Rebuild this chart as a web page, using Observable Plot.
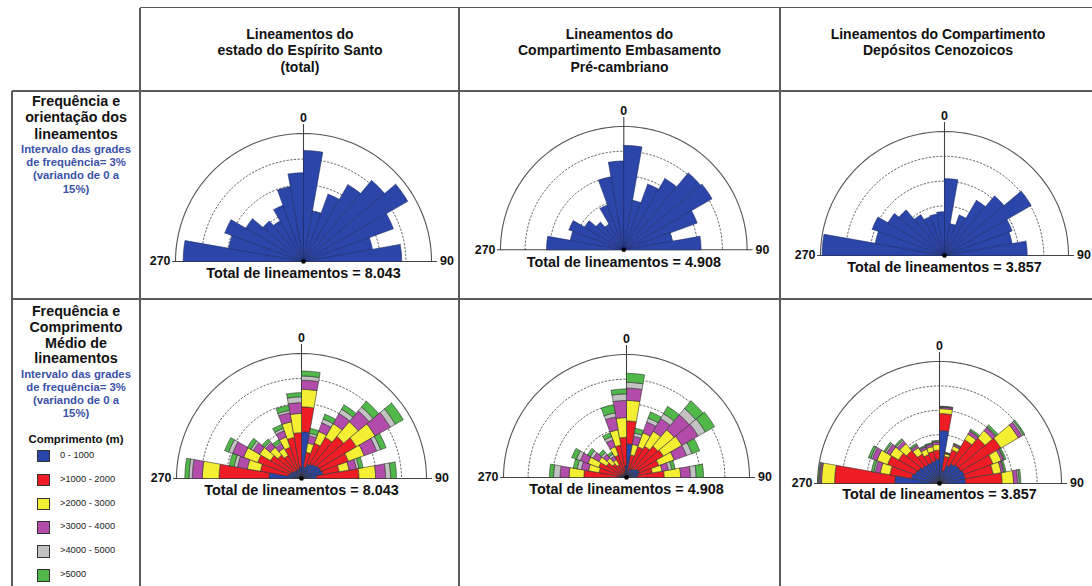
<!DOCTYPE html>
<html lang="pt">
<head>
<meta charset="utf-8">
<script src="https://cdn.jsdelivr.net/npm/d3@7"></script>
<script src="https://cdn.jsdelivr.net/npm/@observablehq/plot@0.6"></script>
<style>
html,body{margin:0;padding:0;background:#fff;}
#page{position:relative;width:1092px;height:586px;overflow:hidden;font-family:Arial,"Liberation Sans",Helvetica,sans-serif;color:#111;}
.chart svg{overflow:visible;}
</style>
</head>
<body>
<div id="page"></div>
<script>
// ---------------- data ----------------
const binStarts = [270,280,290,300,310,320,330,340,350,0,10,20,30,40,50,60,70,80];
const binWidth = 10;
const gridValues = [3,6,9,12,15];
const axisLabels = {left: "270", top: "0", right: "90"};

const columnTitles = [
  ["Lineamentos do", "estado do Espírito Santo", "(total)"],
  ["Lineamentos do", "Compartimento Embasamento", "Pré-cambriano"],
  ["Lineamentos do Compartimento", "Depósitos Cenozoicos"]
];
const row1Title = ["Frequência e", "orientação dos", "lineamentos"];
const row2Title = ["Frequência e", "Comprimento", "Médio de", "lineamentos"];
const gridNote = ["Intervalo das grades", "de frequência= 3%", "(variando de 0 a", "15%)"];
const legendTitle = "Comprimento (m)";
const totalLabels = ["8.043", "4.908", "3.857"];

const lengthClasses = ["0 - 1000", ">1000 - 2000", ">2000 - 3000", ">3000 - 4000", ">4000 - 5000", ">5000"];
const lengthColors = ["#2a45aa", "#ee1d25", "#f4ef33", "#b24ba9", "#c2c2c2", "#4fb848"];
const freqColor = "#2b46a8";

// Frequency (%) per 10° bin, in binStarts order
const freqES  = [14.1, 8.9, 9.8, 7.8, 6.2, 5.5, 7.0, 8.9, 10.4, 13.0, 6.0, 8.4, 10.4, 12.4, 14.1, 11.2, 8.2, 11.5];
const freqPre = [9.4, 6.6, 7.1, 5.5, 4.4, 3.6, 5.8, 9.0, 10.8, 12.7, 6.1, 8.5, 10.0, 12.2, 12.4, 9.5, 6.0, 9.4];
const freqCen = [14.8, 8.5, 9.3, 7.9, 7.2, 5.7, 5.0, 5.1, 5.3, 9.3, 3.9, 5.2, 7.7, 9.4, 12.1, 8.7, 8.3, 10.0];

// Frequency (%) split by length class (rows: lengthClasses), in binStarts order
const lenES = [
  [3.9, 1.6, 1.5, 1.3, 1.2, 1.1, 1.1, 1.2, 1.4, 5.6, 1.4, 1.8, 2.0, 2.2, 2.4, 2.5, 2.6, 1.8],
  [6.0, 3.4, 4.1, 3.0, 2.5, 2.1, 2.9, 3.8, 4.1, 3.0, 1.8, 2.7, 3.7, 4.4, 5.2, 3.5, 2.0, 5.1],
  [2.0, 1.6, 1.8, 1.5, 1.2, 1.0, 1.3, 1.9, 2.3, 2.1, 1.1, 1.5, 1.9, 2.3, 2.6, 2.0, 1.2, 2.0],
  [1.2, 1.2, 1.4, 0.9, 0.7, 0.6, 0.8, 1.1, 1.3, 1.1, 0.9, 1.1, 1.4, 1.7, 2.1, 1.6, 0.9, 1.2],
  [0.4, 0.4, 0.5, 0.3, 0.2, 0.2, 0.3, 0.3, 0.7, 0.5, 0.3, 0.5, 0.6, 0.6, 0.7, 0.5, 0.3, 0.6],
  [0.5, 0.6, 0.5, 0.5, 0.4, 0.4, 0.5, 0.6, 0.5, 0.6, 0.6, 0.6, 0.6, 0.9, 1.1, 0.7, 0.5, 0.7]
];
const lenPre = [
  [1.1, 0.8, 0.8, 0.6, 0.5, 0.4, 0.6, 0.8, 1.4, 4.1, 0.9, 1.1, 1.2, 1.4, 1.6, 1.7, 1.5, 1.3],
  [4.1, 2.6, 2.8, 2.2, 1.7, 1.4, 2.3, 3.2, 3.5, 2.8, 1.9, 2.9, 3.2, 3.6, 3.6, 2.5, 1.7, 3.3],
  [1.8, 1.3, 1.4, 1.1, 0.9, 0.7, 1.1, 1.9, 2.4, 2.5, 1.3, 1.8, 2.1, 2.6, 2.6, 2.0, 1.2, 2.0],
  [1.1, 0.9, 1.0, 0.8, 0.6, 0.5, 0.9, 1.6, 2.1, 1.5, 1.0, 1.4, 1.8, 2.4, 2.3, 1.6, 0.8, 1.2],
  [0.8, 0.5, 0.5, 0.4, 0.3, 0.3, 0.4, 0.5, 0.8, 0.7, 0.4, 0.5, 0.7, 1.0, 1.0, 0.7, 0.4, 0.7],
  [0.5, 0.5, 0.6, 0.4, 0.4, 0.3, 0.5, 1.0, 0.6, 1.1, 0.6, 0.8, 1.0, 1.2, 1.3, 1.0, 0.4, 0.9]
];
const lenCen = [
  [5.5, 3.5, 3.2, 3.0, 2.8, 2.7, 2.7, 2.8, 3.0, 6.5, 1.6, 2.4, 2.8, 3.0, 3.0, 3.2, 3.2, 3.2],
  [7.4, 2.7, 3.6, 2.8, 2.5, 1.5, 1.1, 1.2, 1.1, 2.1, 1.8, 2.0, 3.4, 4.3, 5.7, 3.8, 3.5, 4.5],
  [1.6, 1.2, 1.4, 1.2, 1.1, 0.9, 0.7, 0.6, 0.7, 0.6, 0.3, 0.5, 0.8, 1.2, 2.5, 1.1, 1.0, 1.4],
  [0.2, 0.6, 0.6, 0.5, 0.4, 0.3, 0.3, 0.3, 0.3, 0.2, 0.1, 0.2, 0.4, 0.5, 0.5, 0.3, 0.3, 0.5],
  [0.1, 0.2, 0.2, 0.2, 0.2, 0.1, 0.1, 0.1, 0.1, 0.05, 0.05, 0.05, 0.1, 0.1, 0.2, 0.1, 0.1, 0.2],
  [0.1, 0.3, 0.3, 0.2, 0.2, 0.2, 0.1, 0.1, 0.1, 0.05, 0.05, 0.1, 0.2, 0.3, 0.2, 0.2, 0.2, 0.2]
];

// ---------------- layout helpers ----------------
const page = document.getElementById("page");
const FONT = 'Arial, "Liberation Sans", Helvetica, sans-serif';
function el(css, text) {
  const e = document.createElement("div");
  e.style.position = "absolute";
  Object.assign(e.style, css);
  if (text != null) e.textContent = text;
  page.appendChild(e);
  return e;
}
const lineColor = "#5a5a5a";
function hLine(x1, x2, y) { el({left: x1 + "px", top: (y - 0.75) + "px", width: (x2 - x1) + "px", height: "1.5px", background: lineColor}); }
function vLine(x, y1, y2) { el({left: (x - 0.75) + "px", top: y1 + "px", width: "1.5px", height: (y2 - y1) + "px", background: lineColor}); }
function textLine(cx, cy, s, size, color, weight, anchor = "center", x0) {
  const h = size * 1.5;
  const css = {top: (cy - h / 2) + "px", height: h + "px", lineHeight: h + "px", fontSize: size + "px",
    fontWeight: weight, color, whiteSpace: "nowrap", fontFamily: FONT};
  if (anchor === "center") { css.left = (cx - 200) + "px"; css.width = "400px"; css.textAlign = "center"; }
  else { css.left = x0 + "px"; }
  el(css, s);
}

// table grid
hLine(140, 1092, 7.5);
hLine(12, 1092, 91);
hLine(12, 1092, 299);
vLine(140, 7.5, 586);
vLine(459, 7.5, 586);
vLine(780, 7.5, 586);
vLine(12, 91, 586);

// column headers
const colCenters = [300, 619.5, 938];
columnTitles.forEach((lines, c) => lines.forEach((s, j) => textLine(colCenters[c], 34 + 16.5 * j, s, 14, "#111", "bold")));

// row labels
const noteColor = "#3b51aa";
row1Title.forEach((s, j) => textLine(76, 101.7 + 16.3 * j, s, 14.3, "#111", "bold"));
gridNote.forEach((s, j) => textLine(76, 149.3 + 13.3 * j, s, 11.3, noteColor, "bold"));
row2Title.forEach((s, j) => textLine(76, 311.7 + 15.8 * j, s, 14.3, "#111", "bold"));
gridNote.forEach((s, j) => textLine(76, 374 + 13.3 * j, s, 11.3, noteColor, "bold"));

// legend
textLine(76, 439.3, legendTitle, 11.4, "#111", "bold");
lengthClasses.forEach((s, i) => {
  const cy = 455.7 + 23.9 * i;
  el({left: "37px", top: (cy - 6) + "px", width: "10.5px", height: "10.5px", background: lengthColors[i], border: "1px solid #333"});
  textLine(0, cy, s, 9.3, "#222", "normal", "left", 60);
});

// ---------------- rose diagrams ----------------
function wedge(a0, a1, r0, r1) {
  const n = 8, pts = [];
  for (let j = 0; j <= n; j++) {
    const t = (a0 + (a1 - a0) * j / n) * Math.PI / 180;
    pts.push([r1 * Math.sin(t), r1 * Math.cos(t)]);
  }
  if (r0 > 0) {
    for (let j = n; j >= 0; j--) {
      const t = (a0 + (a1 - a0) * j / n) * Math.PI / 180;
      pts.push([r0 * Math.sin(t), r0 * Math.cos(t)]);
    }
  } else pts.push([0, 0]);
  pts.push(pts[0]);
  return pts;
}

function rose({cx, cy, R, layers, colors, stroke, total, totalDy}) {
  const gmax = d3.max(gridValues);
  const k = R / gmax;
  const padX = R + 45, padTop = R + 30, padBottom = 26;
  const W = 2 * padX, H = padTop + padBottom;
  const marks = [];
  const gridPts = [];
  gridValues.forEach(g => {
    for (let a = -90; a <= 90; a += 2) gridPts.push({g, x: g * Math.sin(a * Math.PI / 180), y: g * Math.cos(a * Math.PI / 180)});
  });
  marks.push(Plot.line(gridPts.filter(d => d.g < gmax), {x: "x", y: "y", z: "g", stroke: "#555", strokeWidth: 0.9, strokeDasharray: "1.5,2.2"}));
  marks.push(Plot.line(gridPts.filter(d => d.g === gmax), {x: "x", y: "y", z: "g", stroke: "#555", strokeWidth: 1.1}));
  marks.push(Plot.ruleY([{y: 0, x1: -gmax - 3 / k, x2: gmax + 6 / k}], {y: "y", x1: "x1", x2: "x2", stroke: "#444", strokeWidth: 1.1}));
  marks.push(Plot.ruleX([{x: 0, y1: 0, y2: gmax + 9 / k}], {x: "x", y1: "y1", y2: "y2", stroke: "#444", strokeWidth: 1.1}));
  layers.forEach((vals, li) => {
    const pts = [];
    vals.forEach((v, i) => {
      const r0 = d3.sum(layers.slice(0, li), L => L[i]);
      wedge(binStarts[i], binStarts[i] + binWidth, r0, r0 + v).forEach(([x, y]) => pts.push({id: i, x, y}));
    });
    marks.push(Plot.line(pts, {x: "x", y: "y", z: "id", fill: colors[li], stroke, strokeWidth: 0.6, strokeLinejoin: "miter"}));
  });
  marks.push(Plot.dot([{x: 0, y: 0}], {x: "x", y: "y", r: 2.3, fill: "#000"}));
  const lab = {fontFamily: FONT, fontWeight: "bold", fontSize: 12.4, fill: "#111"};
  marks.push(Plot.text([{x: 0, y: gmax, t: axisLabels.top}], {x: "x", y: "y", text: "t", dy: -15, ...lab}));
  marks.push(Plot.text([{x: -gmax, y: 0, t: axisLabels.left}], {x: "x", y: "y", text: "t", dx: -5, textAnchor: "end", ...lab}));
  marks.push(Plot.text([{x: gmax, y: 0, t: axisLabels.right}], {x: "x", y: "y", text: "t", dx: 8.5, textAnchor: "start", ...lab}));
  marks.push(Plot.text([{x: 0, y: 0, t: "Total de lineamentos = " + total}], {x: "x", y: "y", text: "t", dy: totalDy, fontFamily: FONT, fontWeight: "bold", fontSize: 14.4, fill: "#111"}));
  const svg = Plot.plot({
    width: W, height: H, margin: 0,
    x: {domain: [-padX / k, padX / k], axis: null},
    y: {domain: [-padBottom / k, padTop / k], axis: null},
    style: {background: "transparent", overflow: "visible"},
    marks
  });
  const box = el({left: (cx - padX) + "px", top: (cy - padTop) + "px", width: W + "px", height: H + "px"});
  box.className = "chart";
  box.appendChild(svg);
}

const oneLayer = arr => [arr];
rose({cx: 303.3, cy: 260.7, R: 128, layers: oneLayer(freqES), colors: [freqColor], stroke: "#1b2a6a", total: totalLabels[0], totalDy: 12});
rose({cx: 623.3, cy: 249.3, R: 123.3, layers: oneLayer(freqPre), colors: [freqColor], stroke: "#1b2a6a", total: totalLabels[1], totalDy: 12.4});
rose({cx: 943.7, cy: 255, R: 124, layers: oneLayer(freqCen), colors: [freqColor], stroke: "#1b2a6a", total: totalLabels[2], totalDy: 11.7});
rose({cx: 301, cy: 478.3, R: 125, layers: lenES, colors: lengthColors, stroke: "#333", total: totalLabels[0], totalDy: 11.7});
rose({cx: 625.7, cy: 476.7, R: 123, layers: lenPre, colors: lengthColors, stroke: "#333", total: totalLabels[1], totalDy: 12.3});
rose({cx: 939, cy: 482.7, R: 122, layers: lenCen, colors: lengthColors, stroke: "#333", total: totalLabels[2], totalDy: 11});
</script>
</body>
</html>
